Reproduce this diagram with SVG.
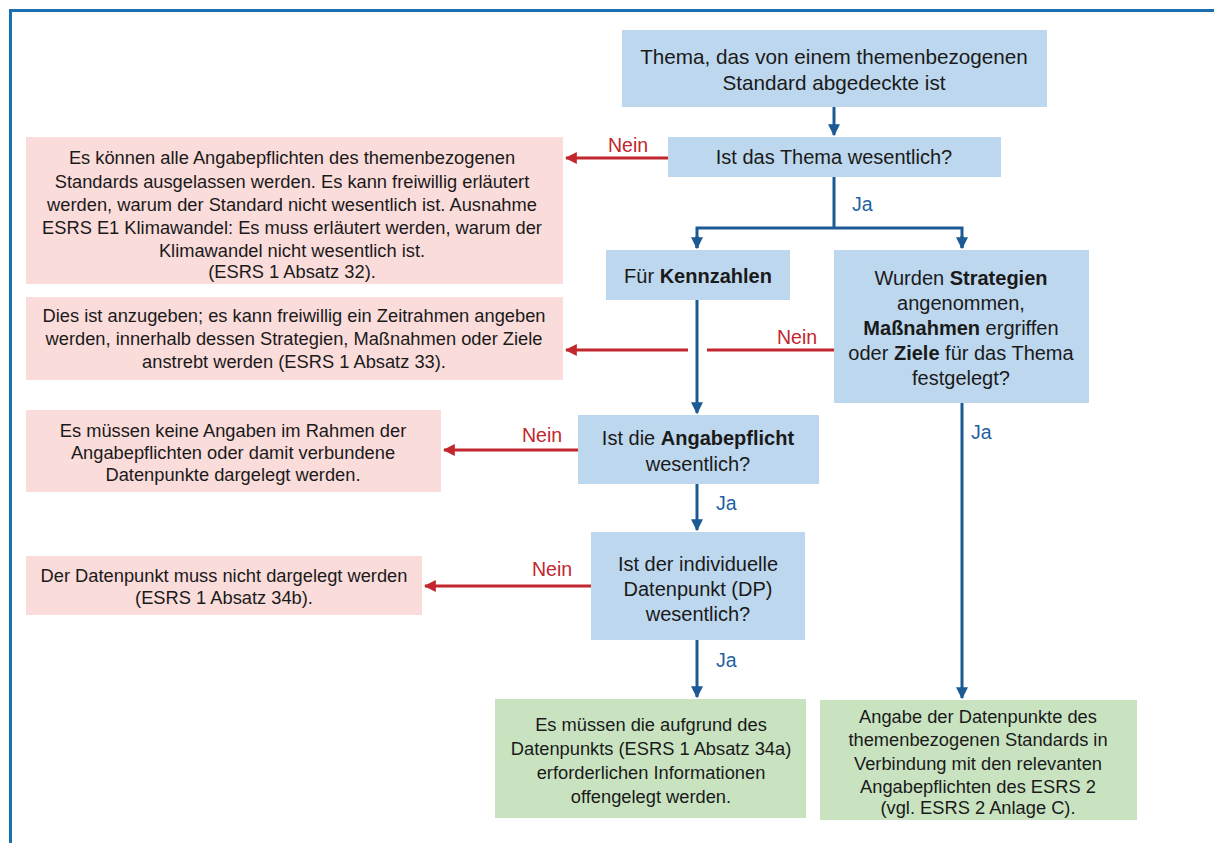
<svg xmlns="http://www.w3.org/2000/svg" width="1214" height="843" viewBox="0 0 1214 843">
<defs>
<style>
text{font-family:"Liberation Sans",Arial,sans-serif;fill:#1a1a1a;text-anchor:middle}
.b{font-weight:bold}
.q{fill:#bdd7ee}
.p{fill:#fadcdb}
.g{fill:#c9e3c1}
.t1{font-size:20px}
.t0{font-size:20.7px}
.t2{font-size:18.3px}
.bl{stroke:#1b5a94;stroke-width:3;fill:none}
.rd{stroke:#c1272d;stroke-width:3;fill:none}
.lr{font-size:19.5px;fill:#c1272d;text-anchor:start}
.lb{font-size:19.5px;fill:#1f61a3;text-anchor:start}
</style>
<marker id="ab" viewBox="0 0 10 10" refX="9" refY="5" markerWidth="4" markerHeight="4" orient="auto" markerUnits="strokeWidth"><path d="M0,0L10,5L0,10z" fill="#1b5a94"/></marker>
<marker id="ar" viewBox="0 0 10 10" refX="9" refY="5" markerWidth="4" markerHeight="4" orient="auto" markerUnits="strokeWidth"><path d="M0,0L10,5L0,10z" fill="#c1272d"/></marker>
</defs>
<rect width="1214" height="843" fill="#fff"/>
<path d="M10.5,843V10.5H1214" stroke="#1a6fb0" stroke-width="3" fill="none"/>

<g id="connectors">
<path class="bl" d="M834,107V135" marker-end="url(#ab)"/>
<path class="rd" d="M668,158H566" marker-end="url(#ar)"/>
<text class="lr" x="608" y="152">Nein</text>
<path class="bl" d="M834,177V228"/>
<path class="bl" d="M697,248V228H962V248" />
<path class="bl" d="M697,236V248" marker-end="url(#ab)"/>
<path class="bl" d="M962,236V248" marker-end="url(#ab)"/>
<text class="lb" x="852" y="211">Ja</text>
<path class="rd" d="M834,350H707"/>
<path class="rd" d="M688,350H566" marker-end="url(#ar)"/>
<text class="lr" x="777" y="344">Nein</text>
<path class="bl" d="M697,300V413" marker-end="url(#ab)"/>
<path class="rd" d="M578,450H444" marker-end="url(#ar)"/>
<text class="lr" x="522" y="442">Nein</text>
<path class="bl" d="M697,484V530" marker-end="url(#ab)"/>
<text class="lb" x="716" y="510">Ja</text>
<path class="rd" d="M591,586H425" marker-end="url(#ar)"/>
<text class="lr" x="532" y="576">Nein</text>
<path class="bl" d="M697,640V697" marker-end="url(#ab)"/>
<text class="lb" x="716" y="667">Ja</text>
<path class="bl" d="M962,403V698" marker-end="url(#ab)"/>
<text class="lb" x="971" y="439">Ja</text>
</g>

<g id="n1"><rect class="q" x="622" y="30" width="425" height="77"/>
<text class="t0" x="834" y="64">Thema, das von einem themenbezogenen</text>
<text class="t0" x="834" y="90">Standard abgedeckte ist</text></g>

<g id="n2"><rect class="q" x="668" y="137" width="333" height="40"/>
<text class="t1" x="834" y="164">Ist das Thema wesentlich?</text></g>

<g id="n3"><rect class="p" x="26" y="137" width="537" height="147"/>
<g class="t2">
<text x="292" y="164">Es können alle Angabepflichten des themenbezogenen</text>
<text x="292" y="188">Standards ausgelassen werden. Es kann freiwillig erläutert</text>
<text x="292" y="211">werden, warum der Standard nicht wesentlich ist. Ausnahme</text>
<text x="292" y="234">ESRS E1 Klimawandel: Es muss erläutert werden, warum der</text>
<text x="292" y="257">Klimawandel nicht wesentlich ist.</text>
<text x="292" y="278">(ESRS 1 Absatz 32).</text></g></g>

<g id="n4"><rect class="q" x="606" y="250" width="184" height="50"/>
<text class="t1" x="698" y="283">Für <tspan class="b">Kennzahlen</tspan></text></g>

<g id="n5"><rect class="q" x="834" y="250" width="255" height="153"/>
<g class="t1">
<text x="961" y="285">Wurden <tspan class="b">Strategien</tspan></text>
<text x="961" y="310">angenommen,</text>
<text x="961" y="335"><tspan class="b">Maßnahmen</tspan> ergriffen</text>
<text x="961" y="360">oder <tspan class="b">Ziele</tspan> für das Thema</text>
<text x="961" y="385">festgelegt?</text></g></g>

<g id="n6"><rect class="p" x="26" y="297" width="537" height="83"/>
<g class="t2">
<text x="294" y="322">Dies ist anzugeben; es kann freiwillig ein Zeitrahmen angeben</text>
<text x="294" y="345">werden, innerhalb dessen Strategien, Maßnahmen oder Ziele</text>
<text x="294" y="368">anstrebt werden (ESRS 1 Absatz 33).</text></g></g>

<g id="n7"><rect class="q" x="578" y="415" width="241" height="69"/>
<g class="t1">
<text x="698" y="445">Ist die <tspan class="b">Angabepflicht</tspan></text>
<text x="698" y="471">wesentlich?</text></g></g>

<g id="n8"><rect class="p" x="26" y="410" width="415" height="82"/>
<g class="t2">
<text x="233" y="437">Es müssen keine Angaben im Rahmen der</text>
<text x="233" y="459">Angabepflichten oder damit verbundene</text>
<text x="233" y="481">Datenpunkte dargelegt werden.</text></g></g>

<g id="n9"><rect class="q" x="591" y="532" width="214" height="108"/>
<g class="t1">
<text x="698" y="571">Ist der individuelle</text>
<text x="698" y="596">Datenpunkt (DP)</text>
<text x="698" y="621">wesentlich?</text></g></g>

<g id="n10"><rect class="p" x="26" y="556" width="396" height="59"/>
<g class="t2">
<text x="224" y="582">Der Datenpunkt muss nicht dargelegt werden</text>
<text x="224" y="604">(ESRS 1 Absatz 34b).</text></g></g>

<g id="n11"><rect class="g" x="495" y="699" width="311" height="119"/>
<g class="t2">
<text x="651" y="731">Es müssen die aufgrund des</text>
<text x="651" y="755">Datenpunkts (ESRS 1 Absatz 34a)</text>
<text x="651" y="779">erforderlichen Informationen</text>
<text x="651" y="803">offengelegt werden.</text></g></g>

<g id="n12"><rect class="g" x="820" y="700" width="317" height="120"/>
<g class="t2">
<text x="978" y="723">Angabe der Datenpunkte des</text>
<text x="978" y="746">themenbezogenen Standards in</text>
<text x="978" y="770">Verbindung mit den relevanten</text>
<text x="978" y="793">Angabepflichten des ESRS 2</text>
<text x="978" y="814">(vgl. ESRS 2 Anlage C).</text></g></g>
</svg>
